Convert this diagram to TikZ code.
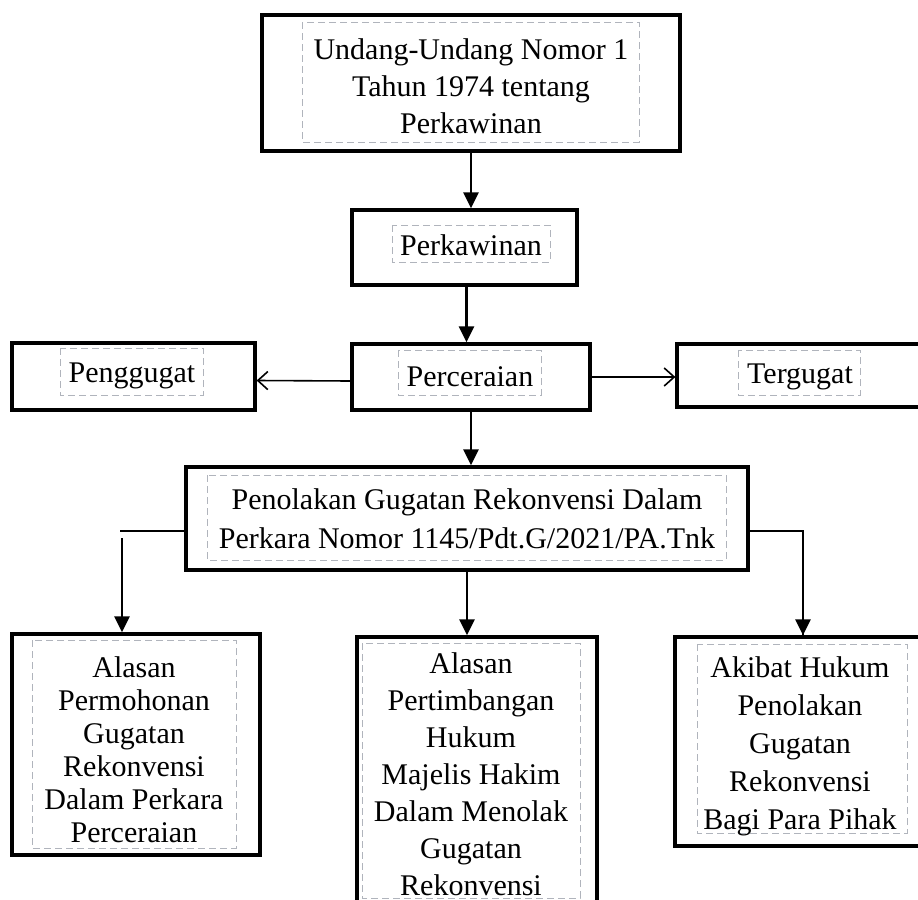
\documentclass[tikz,border=0pt]{standalone}
\usepackage{fontspec}
\setmainfont{Liberation Serif}
\usetikzlibrary{arrows.meta,fit}
\definecolor{dashgray}{HTML}{B0B4BC}
\begin{document}
\begin{tikzpicture}[x=0.5pt,y=-0.5pt,
  box/.style={draw=black, line width=1.6pt, inner sep=0pt},
  inbox/.style={draw=dashgray, line width=0.5pt, dash pattern=on 3.5pt off 2pt},
  txt/.style={align=center, inner sep=0pt, font=\fontsize{15}{#1}\selectfont},
  txt/.default=18.5,
  arr/.style={line width=1.4pt, -{Triangle[width=7.5pt,length=8pt]}},
  oarr/.style={line width=0.8pt, -{Straight Barb[width=9pt,length=5pt,line width=0.8pt]}},
  ln/.style={line width=1.4pt}]
\useasboundingbox (0,0) rectangle (918,900);

% boxes
\node[box, fit={(262,15) (680,151)}] (top) {};
\draw[inbox] (302,22) rectangle (639,142);
\node[txt=18.5] (topt) at (471,86) {Undang-Undang Nomor 1\\Tahun 1974 tentang\\Perkawinan};

\node[box, fit={(352,210) (577,285)}] (perk) {};
\draw[inbox] (392,225) rectangle (550,262);
\node[txt] (perkt) at (471,245) {Perkawinan};

\node[box, fit={(352,344) (590,410)}] (perc) {};
\draw[inbox] (398,350) rectangle (541,395);
\node[txt] (perct) at (470,377) {Perceraian};

\node[box, fit={(12,343) (255,410)}] (peng) {};
\draw[inbox] (60,348) rectangle (203,395);
\node[txt] (pengt) at (132,376) {Penggugat};

\node[box, fit={(677,344) (930,407)}] (terg) {};
\draw[inbox] (738,350) rectangle (860,395);
\node[txt] (tergt) at (800,377) {Tergugat};

\node[box, fit={(186,467) (748,570)}] (pen) {};
\draw[inbox] (207,475) rectangle (726,560);
\node[txt=19.5] (pent) at (467,519) {Penolakan Gugatan Rekonvensi Dalam\\Perkara Nomor 1145/Pdt.G/2021/PA.Tnk};

\node[box, fit={(12,634) (260,855)}] (lb) {};
\draw[inbox] (32,640) rectangle (236,848);
\node[txt=16.5] (lbt) at (134,750) {Alasan\\Permohonan\\Gugatan\\Rekonvensi\\Dalam Perkara\\Perceraian};

\node[box, fit={(357,637) (597,920)}] (mb) {};
\draw[inbox] (362,643) rectangle (580,898);
\node[txt=18.5] (mbt) at (471,774) {Alasan\\Pertimbangan\\Hukum\\Majelis Hakim\\Dalam Menolak\\Gugatan\\Rekonvensi};

\node[box, fit={(675,637) (930,846)}] (rb) {};
\draw[inbox] (697,644) rectangle (907,833);
\node[txt=19] (rbt) at (800,746) {Akibat Hukum\\Penolakan\\Gugatan\\Rekonvensi\\Bagi Para Pihak};

% connectors
\draw[arr] (top.south) -- (top.south |- perk.north);
\draw[arr] ([xshift=1pt]perk.south) -- ([xshift=1pt]perk.south |- perc.north);
\draw[oarr] ([yshift=-2pt]perc.west) -- ([yshift=-2pt]peng.east);
\draw[oarr] (perc.east) -- (perc.east -| terg.west);
\draw[arr] (perc.south) -- (perc.south |- pen.north);
\draw[arr] (pen.south) -- (pen.south |- mb.north);

\coordinate (lh) at (120,531);
\coordinate (ls) at (122,538);
\draw[ln] (pen.west |- lh) -- (lh);
\draw[arr] (ls) -- (ls |- lb.north);

\coordinate (rh) at (803,531);
\draw[ln] (pen.east |- rh) -- (rh) -- (rh |- rb.north);
\draw[arr] ([yshift=-40pt]rh) -- (rh |- rb.north);
\end{tikzpicture}
\end{document}
